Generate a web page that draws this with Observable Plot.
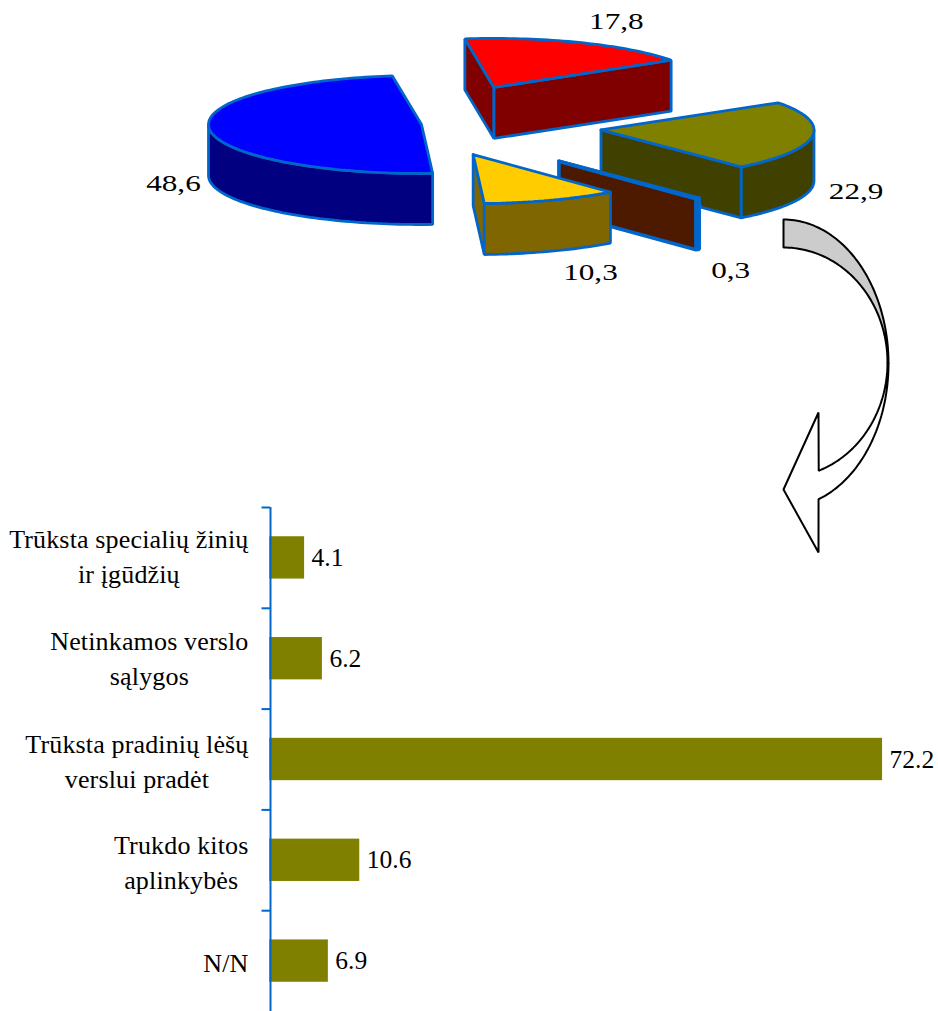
<!DOCTYPE html>
<html>
<head>
<meta charset="utf-8">
<script src="https://cdn.jsdelivr.net/npm/d3@7"></script>
<script src="https://cdn.jsdelivr.net/npm/@observablehq/plot@0.6"></script>
<style>
  html, body { margin: 0; padding: 0; background: #fff; }
  #chart { position: relative; width: 938px; height: 1011px; overflow: hidden; }
  #chart > svg { display: block; }
  #pie { position: absolute; left: 0; top: 0; }
</style>
</head>
<body>
<div id="chart"></div>
<script>
// ---------- data ----------
const pieValues = [48.6, 17.8, 22.9, 0.3, 10.3];
const barCategories = [
  "Trūksta specialių žinių\nir įgūdžių",
  "Netinkamos verslo\nsąlygos",
  "Trūksta pradinių lėšų\nverslui pradėt",
  "Trukdo kitos\naplinkybės",
  "N/N"
];
const barValues = [4.1, 6.2, 72.2, 10.6, 6.9];

// ---------- pie styling / layout ----------
const pieTop = ["#0000ff", "#ff0000", "#808000", "#993300", "#ffcc00"];
const pieSide = ["#000080", "#800000", "#404000", "#4d1a00", "#806600"];
const pieExplode = [0, 0.83, 0.85, 0.99, 0.66];
const pieEdgeWidth = [2.8, 2.8, 2.8, 3.6, 2.8];
const pieLabelOffset = [[-36, 54], [35, -21], [44, 55], [33, 72], [39, 72]];
const labelShift = [-4, -2, 0, 0, 0];
const pieCenter = {x: 421, y: 124}, rx = 213, ry = 49, depth = 51, startDeg = 177;
const edge = "#0066cc", olive = "#808000";
const barZero = 269.3, barUnit = 8.487;

const rad = (d) => d * Math.PI / 180;
const pt = (c, t, r = 1) => ({x: c.x + rx * r * Math.sin(t), y: c.y - ry * r * Math.cos(t)});
const down = (p) => ({x: p.x, y: p.y + depth});
const arc = (c, a, b) => {
  const n = Math.max(2, Math.ceil((b - a) / rad(1.5)));
  return d3.range(n + 1).map((i) => pt(c, a + (b - a) * i / n));
};

const slices = d3.pie().sort(null).startAngle(rad(startDeg)).endAngle(rad(startDeg + 360))(pieValues);
const face = (points, fill, stroke = edge, strokeWidth = 2.8) =>
  Plot.line([...points, points[0]], {x: "x", y: "y", fill, stroke, strokeWidth, strokeLinejoin: "miter", curve: "linear"});

const pieMarks = [];
const pieLabels = [];
slices.forEach((s, i) => {
  const mid = (s.startAngle + s.endAngle) / 2;
  const c = pt(pieCenter, mid, pieExplode[i]);
  const side = pieSide[i], sw = pieEdgeWidth[i];
  // radial walls, only when they face the viewer
  for (const [t, normal] of [[s.startAngle, s.startAngle - Math.PI / 2], [s.endAngle, s.endAngle + Math.PI / 2]]) {
    if (Math.cos(normal) < 0) {
      const e = pt(c, t);
      pieMarks.push(face([c, e, down(e), down(c)], side, edge, sw));
    }
  }
  // outer rim, the part on the front half of the ellipse
  for (const [lo, hi] of [[rad(90), rad(270)], [rad(450), rad(630)]]) {
    const a = Math.max(lo, s.startAngle), b = Math.min(hi, s.endAngle);
    if (b > a) {
      const top = arc(c, a, b);
      pieMarks.push(face([...top, ...top.map(down).reverse()], side, edge, sw));
    }
  }
  // top face
  pieMarks.push(face([c, ...arc(c, s.startAngle, s.endAngle)], pieTop[i], edge, sw));
  const m = pt(c, mid);
  pieLabels.push({x: m.x + pieLabelOffset[i][0], y: m.y + pieLabelOffset[i][1], text: pieValues[i].toFixed(1).replace(".", ",")});
});

// ---------- curved arrow ----------
const ellipseArc = (cx, cy, erx, ery, fromDeg, toDeg, steps = 60) =>
  d3.range(steps + 1).map((i) => {
    const t = rad(fromDeg + (toDeg - fromDeg) * i / steps);
    return {x: cx + erx * Math.sin(t), y: cy - ery * Math.cos(t)};
  });
const arrowOuter = {cx: 783, cy: 363, rx: 105, ry: 144};
const arrowInner = {cx: 783, cy: 362, rx: 104, ry: 115};
const arcOf = (e, a, b) => ellipseArc(e.cx, e.cy, e.rx, e.ry, a, b);
const arrowGrey = [...arcOf(arrowOuter, 0, 90), ...arcOf(arrowInner, 90, 0)];
const arrowWhite = [
  ...arcOf(arrowOuter, 90, 160.5),
  {x: 818, y: 552}, {x: 783, y: 489}, {x: 818, y: 412},
  ...arcOf(arrowInner, 160.2, 90)
];

// ---------- lower chart ----------
const barRows = barCategories.map((category, i) => ({category, value: barValues[i]}));
const serif = "'Liberation Serif', 'Times New Roman', serif";

const bars = Plot.plot({
  width: 938, height: 1011,
  marginTop: 507, marginBottom: 0, marginLeft: 271, marginRight: 0,
  style: {background: "transparent", fontFamily: serif, color: "#000"},
  x: {domain: [0, (938 - barZero) / barUnit], range: [barZero, 938], axis: null},
  y: {domain: barCategories, range: [507, 1011], paddingInner: 0.58, paddingOuter: 0.29, round: false, label: null},
  marks: [
    Plot.barX(barRows, {x: "value", y: "category", fill: olive}),
    Plot.ruleX([0], {stroke: edge, strokeWidth: 2, dx: 0.7}),
    Plot.ruleY(barCategories, {y: (d) => d, x1: -1, x2: 0, stroke: edge, strokeWidth: 2, dx: 0.7, dy: -50.4}),
    Plot.axisY({anchor: "left", tickSize: 0, tickPadding: 23, fontSize: 26, lineHeight: 1.35, fill: "#000", className: "cat-axis"}),
    Plot.text(barRows, {x: "value", y: "category", text: (d) => d.value.toFixed(1), dx: 7, textAnchor: "start", fontSize: 25.5, fill: "#000"})
  ]
});

const pie = Plot.plot({
  width: 938, height: 560, margin: 0,
  style: {background: "transparent", fontFamily: serif, color: "#000"},
  x: {domain: [0, 938], range: [0, 938], axis: null},
  y: {domain: [0, 560], range: [0, 560], axis: null},
  marks: [
    ...pieMarks,
    face(arrowGrey, "#cccccc", "#000", 2),
    face(arrowWhite, "#ffffff", "#000", 2),
    Plot.text(pieLabels, {x: "x", y: "y", text: "text", fontSize: 24, fill: "#000", className: "pie-label"})
  ]
});
pie.id = "pie";

const root = document.getElementById("chart");
root.append(bars, pie);

// the reference's pie labels are stretched sideways
pie.querySelectorAll(".pie-label text").forEach((t) => {
  t.setAttribute("textLength", t.getComputedTextLength() * 1.3);
  t.setAttribute("lengthAdjust", "spacingAndGlyphs");
});
// two-line category labels are centred on their own longest line
bars.querySelectorAll(".cat-axis text").forEach((t, i) => {
  t.setAttribute("dy", labelShift[i]);
  t.style.letterSpacing = "0.15px";
  const lines = [...t.querySelectorAll("tspan")];
  if (!lines.length) return;
  const w = d3.max(lines, (l) => l.getComputedTextLength());
  t.setAttribute("text-anchor", "middle");
  lines.forEach((l) => l.setAttribute("x", -w / 2));
});
</script>
</body>
</html>
